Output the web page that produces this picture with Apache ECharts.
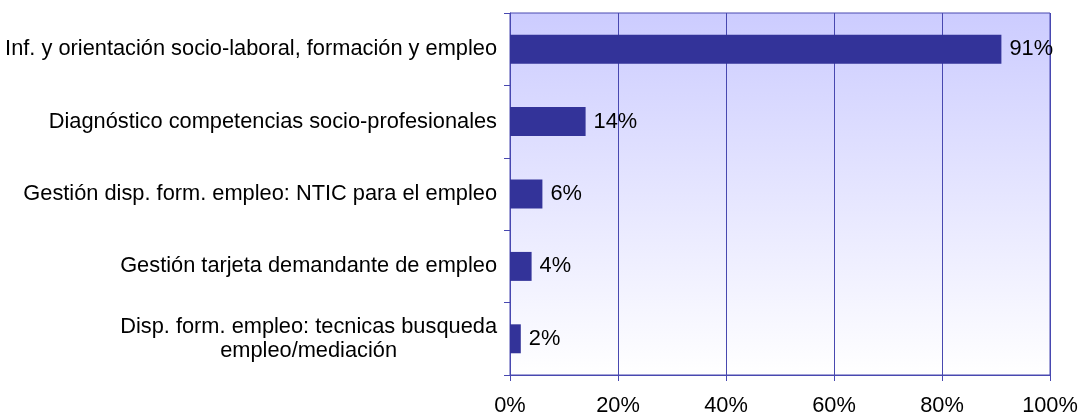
<!DOCTYPE html>
<html>
<head>
<meta charset="utf-8">
<script src="https://cdn.jsdelivr.net/npm/echarts@6/dist/echarts.min.js"></script>
<style>
  html, body { margin: 0; padding: 0; background: #ffffff; }
  #chart { width: 1079px; height: 414px; }
</style>
</head>
<body>
<div id="chart"></div>
<script>
// Service categories (top to bottom) and share of users (%)
const categories = [
  'Inf. y orientación socio-laboral, formación y empleo',
  'Diagnóstico competencias socio-profesionales',
  'Gestión disp. form. empleo: NTIC para el empleo',
  'Gestión tarjeta demandante de empleo',
  'Disp. form. empleo: tecnicas busqueda\nempleo/mediación'
];
const values = [91, 14, 6, 4, 2];
const xTicks = [0, 20, 40, 60, 80, 100];

const FONT = '"Liberation Sans", Arial, Helvetica, sans-serif';
const FS = 21.8;
const LINE = '#4848b0';

const chart = echarts.init(document.getElementById('chart'));
chart.setOption({
  animation: false,
  textStyle: { fontFamily: FONT },
  grid: {
    left: 510, right: 29, top: 13, bottom: 39,
    containLabel: false,
    outerBoundsMode: 'none',
    show: true,
    borderColor: LINE,
    borderWidth: 1,
    backgroundColor: {
      type: 'linear', x: 0, y: 0, x2: 0, y2: 1,
      colorStops: [
        { offset: 0, color: '#ccccff' },
        { offset: 1, color: '#ffffff' }
      ]
    }
  },
  xAxis: {
    type: 'value',
    min: xTicks[0],
    max: xTicks[xTicks.length - 1],
    interval: xTicks[1] - xTicks[0],
    axisLine: { show: true, lineStyle: { color: LINE, width: 1 } },
    axisTick: { show: true, length: 6, lineStyle: { color: LINE } },
    splitLine: { show: true, lineStyle: { color: LINE, width: 1 } },
    axisLabel: {
      formatter: '{value}%',
      color: '#000', fontSize: FS, fontFamily: FONT, margin: 20
    }
  },
  yAxis: {
    type: 'category',
    inverse: true,
    data: categories,
    axisLine: { show: true, lineStyle: { color: LINE, width: 1 } },
    axisTick: { show: true, length: 6, alignWithLabel: false, lineStyle: { color: LINE } },
    axisLabel: {
      color: '#000', fontSize: FS, fontFamily: FONT, margin: 13,
      formatter: function (v) {
        const parts = v.split('\n');
        if (parts.length === 1) return '{a|' + v + '}';
        return '{c|' + parts[0] + '}\n{c|' + parts[1] + '}';
      },
      rich: {
        a: { fontSize: FS, fontFamily: FONT, color: '#000' },
        c: { fontSize: FS, fontFamily: FONT, color: '#000', lineHeight: 24, align: 'center' }
      }
    }
  },
  series: [{
    type: 'bar',
    data: values,
    barWidth: '40%',
    itemStyle: { color: '#333399' },
    label: {
      show: true,
      position: 'right',
      distance: 8,
      formatter: '{c}%',
      color: '#000',
      fontSize: FS,
      fontFamily: FONT
    }
  }]
});
</script>
</body>
</html>
